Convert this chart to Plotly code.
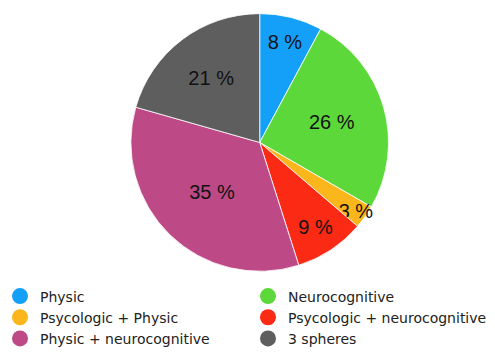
import plotly.graph_objects as go

# slices, clockwise from 12 o'clock
categories = ["Physic", "Neurocognitive", "Psycologic + Physic",
              "Psycologic + neurocognitive", "Physic + neurocognitive", "3 spheres"]
percent = [8, 26, 3, 9, 35, 21]
colors = ["#14a0f8", "#5dd83b", "#fbb61b", "#fb2a14", "#bd4a86", "#5e5e5e"]

fig = go.Figure()

fig.add_trace(go.Pie(
    labels=categories,
    values=percent,
    text=[f"{p} %" for p in percent],
    textinfo="text",
    textposition="inside",
    insidetextorientation="horizontal",
    textfont=dict(family="Liberation Sans, Arial", size=20, color="#111111"),
    marker=dict(colors=colors, line=dict(color="white", width=0.8)),
    sort=False,
    direction="clockwise",
    rotation=0,
    hoverinfo="label+percent",
    showlegend=False,
    domain=dict(x=[0.246, 0.771], y=[0.252, 0.984]),
))

# legend entries with round markers
for name, col in zip(categories, colors):
    fig.add_trace(go.Scatter(
        x=[None], y=[None], mode="markers", name=name,
        marker=dict(symbol="circle", size=18, color=col),
        showlegend=True, hoverinfo="skip",
    ))

fig.update_xaxes(visible=False)
fig.update_yaxes(visible=False)

fig.update_layout(
    width=495,
    height=352,
    margin=dict(l=0, r=0, t=0, b=0),
    paper_bgcolor="white",
    plot_bgcolor="white",
    uniformtext=dict(minsize=20, mode="show"),
    legend=dict(
        orientation="h",
        x=0, y=0.226, xanchor="left", yanchor="top",
        indentation=-8,
        entrywidth=211, entrywidthmode="pixels",
        font=dict(family="DejaVu Sans", size=14, color="#222222"),
        itemsizing="trace",
        bgcolor="rgba(0,0,0,0)",
    ),
)

fig.write_html("out.html")
